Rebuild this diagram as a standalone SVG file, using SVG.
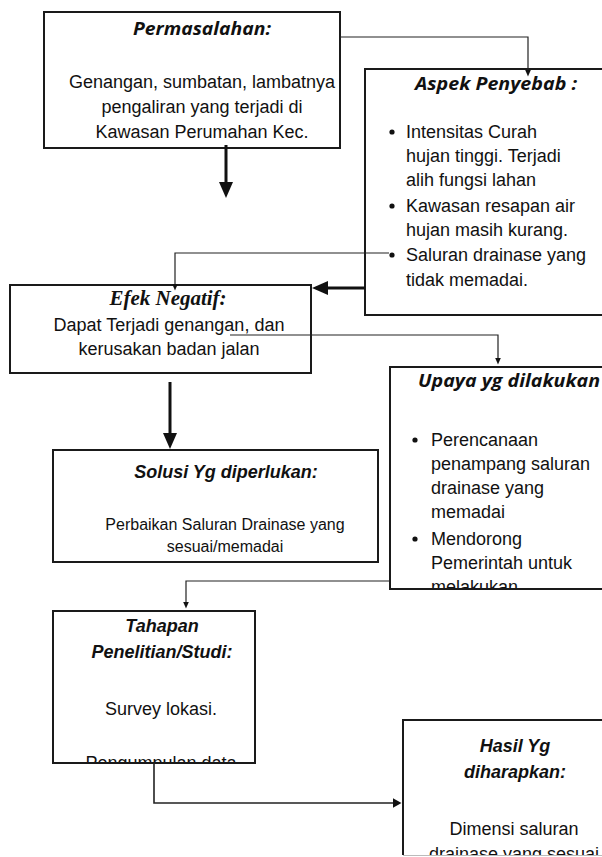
<svg xmlns="http://www.w3.org/2000/svg" width="602" height="857" viewBox="0 0 602 857">
<style>
.box{fill:#fff;stroke:#1a1a1a;stroke-width:2}
.body{font-family:"Liberation Sans",Arial,sans-serif;font-size:18px;fill:#111}
.small{font-size:16px}
.cal{font-family:"Open Sans","Liberation Sans",sans-serif;font-weight:bold;font-style:italic;font-size:17px;fill:#111}
.bi{font-family:"Liberation Sans",Arial,sans-serif;font-weight:bold;font-style:italic;font-size:18px;fill:#111}
.serif{font-family:"Liberation Serif","Times New Roman",serif;font-weight:bold;font-style:italic;font-size:21px;fill:#111}
.mid{text-anchor:middle}
.thin{fill:none;stroke:#222;stroke-width:1.2}
.thick{fill:none;stroke:#111;stroke-width:3}
.med{fill:none;stroke:#222;stroke-width:1.6}
</style>
<defs>
<marker id="ahThick" markerUnits="userSpaceOnUse" viewBox="0 0 16 14" markerWidth="16" markerHeight="14" refX="1" refY="7" orient="auto"><path d="M0,0 L16,7 L0,14 z" fill="#111"/></marker>
<marker id="ahThin" markerUnits="userSpaceOnUse" viewBox="0 0 7 6" markerWidth="7" markerHeight="6" refX="0.5" refY="3" orient="auto"><path d="M0,0 L7,3 L0,6 z" fill="#111"/></marker>
<marker id="ahMed" markerUnits="userSpaceOnUse" viewBox="0 0 9 10" markerWidth="9" markerHeight="10" refX="0.5" refY="5" orient="auto"><path d="M0,0 L9,5 L0,10 z" fill="#111"/></marker>
<clipPath id="cUpaya"><rect x="391" y="368" width="212" height="220"/></clipPath>
<clipPath id="cTahapan"><rect x="54" y="612" width="200" height="150"/></clipPath>
<clipPath id="cHasil"><rect x="404" y="721" width="200" height="134"/></clipPath>
</defs>

<g id="permasalahan">
<rect class="box" x="44" y="12" width="296" height="136"/>
<text class="cal mid" x="202" y="35" textLength="138" lengthAdjust="spacingAndGlyphs">Permasalahan:</text>
<text class="body mid" x="202" y="88">Genangan, sumbatan, lambatnya</text>
<text class="body mid" x="202" y="113">pengaliran yang terjadi di</text>
<text class="body mid" x="202" y="138">Kawasan Perumahan Kec.</text>
</g>

<g id="aspek">
<rect class="box" x="365" y="69" width="250" height="246"/>
<text class="cal mid" x="496" y="90" textLength="162" lengthAdjust="spacingAndGlyphs">Aspek Penyebab :</text>
<circle cx="392" cy="132" r="2.6" fill="#111"/>
<text class="body" x="406" y="138">Intensitas Curah</text>
<text class="body" x="406" y="162">hujan tinggi. Terjadi</text>
<text class="body" x="406" y="186">alih fungsi lahan</text>
<circle cx="392" cy="206" r="2.6" fill="#111"/>
<text class="body" x="406" y="212">Kawasan resapan air</text>
<text class="body" x="406" y="236">hujan masih kurang.</text>
<circle cx="392" cy="255" r="2.6" fill="#111"/>
<text class="body" x="406" y="261">Saluran drainase yang</text>
<text class="body" x="406" y="286">tidak memadai.</text>
</g>

<g id="efek">
<rect class="box" x="10" y="285" width="301" height="88"/>
<text class="serif mid" x="168" y="305">Efek Negatif:</text>
<text class="body mid" x="169" y="331">Dapat Terjadi genangan, dan</text>
<text class="body mid" x="169" y="355">kerusakan badan jalan</text>
</g>

<g id="upaya">
<rect class="box" x="390" y="367" width="225" height="222"/>
<g clip-path="url(#cUpaya)">
<text class="cal" x="418" y="387" textLength="182" lengthAdjust="spacingAndGlyphs">Upaya yg dilakukan</text>
<circle cx="415" cy="440" r="2.6" fill="#111"/>
<text class="body" x="431" y="446">Perencanaan</text>
<text class="body" x="431" y="470">penampang saluran</text>
<text class="body" x="431" y="494">drainase yang</text>
<text class="body" x="431" y="518">memadai</text>
<circle cx="415" cy="539" r="2.6" fill="#111"/>
<text class="body" x="431" y="545">Mendorong</text>
<text class="body" x="431" y="569">Pemerintah untuk</text>
<text class="body" x="431" y="593">melakukan</text>
</g>
</g>

<g id="solusi">
<rect class="box" x="53" y="450" width="325" height="112"/>
<text class="bi mid small" x="226" y="478">Solusi Yg diperlukan:</text>
<text class="body mid small" x="225" y="530">Perbaikan Saluran Drainase yang</text>
<text class="body mid small" x="225" y="552">sesuai/memadai</text>
</g>

<g id="tahapan">
<rect class="box" x="53" y="611" width="202" height="152"/>
<g clip-path="url(#cTahapan)">
<text class="bi mid" x="162" y="632">Tahapan</text>
<text class="bi mid" x="162" y="658">Penelitian/Studi:</text>
<text class="body mid" x="161" y="715">Survey lokasi.</text>
<text class="body mid" x="161" y="769">Pengumpulan data</text>
</g>
</g>

<g id="hasil">
<path d="M615,720 H403 V855" fill="none" stroke="#1a1a1a" stroke-width="2"/>
<line x1="403" y1="855.5" x2="602" y2="855.5" stroke="#bbb" stroke-width="1"/>
<g clip-path="url(#cHasil)">
<text class="bi mid" x="515" y="752">Hasil Yg</text>
<text class="bi mid" x="515" y="778">diharapkan:</text>
<text class="body mid" x="514" y="835">Dimensi saluran</text>
<text class="body mid" x="514" y="860">drainase yang sesuai</text>
</g>
</g>

<g id="connectors">
<path class="thin" d="M340,37 H528 V70" marker-end="url(#ahThin)"/>
<path class="thick" d="M226,145 V183" marker-end="url(#ahThick)"/>
<path class="thin" d="M389,253 H175 V284" marker-end="url(#ahThin)"/>
<path class="thick" d="M365,288 H327" marker-end="url(#ahThick)"/>
<path class="thin" d="M230,335 H498 V358" marker-end="url(#ahThin)"/>
<path class="thick" d="M170,382 V434" marker-end="url(#ahThick)"/>
<path class="thin" d="M390,581 H186 V602" marker-end="url(#ahThin)"/>
<path class="med" d="M154,763 V803 H393" marker-end="url(#ahMed)"/>
</g>
</svg>
